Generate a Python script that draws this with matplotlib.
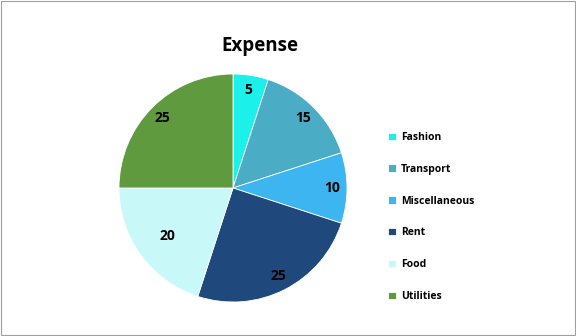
import matplotlib.pyplot as plt
from matplotlib.patches import Rectangle

# Data
categorias = ['Fashion', 'Transport', 'Miscellaneous', 'Rent', 'Food', 'Utilities']
valores = [5, 15, 10, 25, 20, 25]
cores = ['#1bf0ea', '#4bacc6', '#3db5f0', '#1f497d', '#c8f8f8', '#5f9a3e']

fig = plt.figure(figsize=(5.76, 3.36), dpi=100)
plt.rcParams['font.family'] = ['Open Sans', 'DejaVu Sans']

# pie axes: center ~(233,188), radius ~114 px
ax = fig.add_axes([(233 - 114) / 576, 1 - (188 + 114) / 336, 228 / 576, 228 / 336])
wedges, textos = ax.pie(valores, colors=cores, startangle=90, counterclock=False,
                        labels=[str(v) for v in valores], labeldistance=0.87,
                        wedgeprops={'linewidth': 0.6, 'edgecolor': 'white'},
                        textprops={'fontsize': 10, 'fontweight': 'bold', 'ha': 'center', 'va': 'center'})
ax.set_xlim(-1, 1)
ax.set_ylim(-1, 1)
ax.set_aspect('equal')

# Food label sits closer to the center
x, y = textos[4].get_position()
textos[4].set_position((x * 0.82, y * 0.82))

fig.text(260 / 576, 1 - 46 / 336, 'Expense', ha='center', va='center', fontsize=13.5, fontweight='bold')

leg = fig.legend(wedges, categorias, loc='center left', bbox_to_anchor=(379 / 576, 1 - 217 / 336),
                 frameon=False, fontsize=7.5, handlelength=0.7, handleheight=0.7,
                 handletextpad=0.5, labelspacing=2.0)
for t in leg.get_texts():
    t.set_fontweight('bold')

# gray frame around the chart
fig.patches.append(Rectangle((0.002, 0.003), 0.996, 0.994, transform=fig.transFigure,
                             fill=False, edgecolor='#a0a0a0', linewidth=0.8))

fig.savefig('out.png', dpi=100)
